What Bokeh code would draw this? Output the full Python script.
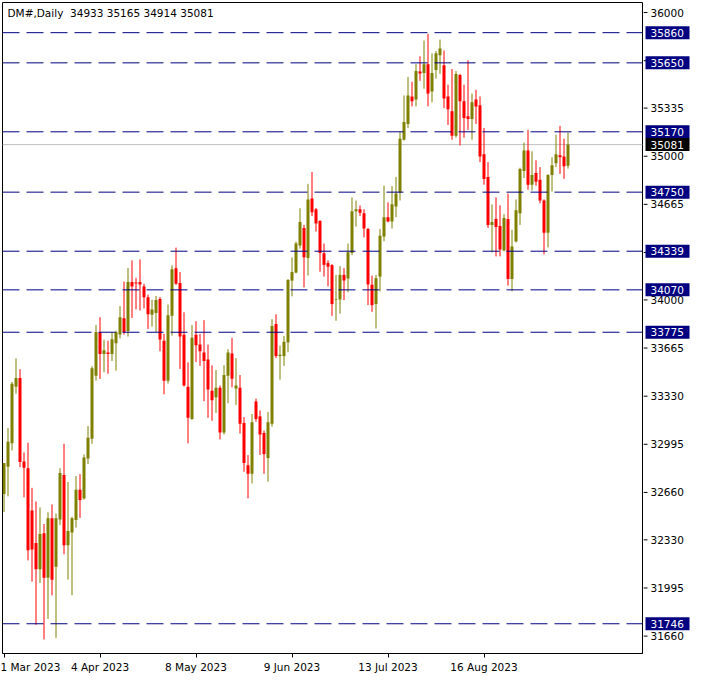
from bokeh.plotting import figure
from bokeh.layouts import row
from bokeh.models import Span, Label, FixedTicker, Range1d, ColumnDataSource
from bokeh.core.properties import value
from bokeh.embed import file_html
from bokeh.resources import INLINE

symbol = "DM#,Daily"

opens = [32649, 32838, 33002, 33395, 33457, 32876, 32829, 32535, 32308, 32126,
         32376, 32067, 32481, 32142, 32472, 32781, 32292, 32381, 32469, 32679,
         32617, 32897, 33033, 33472, 33773, 33623, 33634, 33623, 33698, 33759,
         33873, 33784, 34125, 34121, 34125, 34093, 34018, 33896, 33909, 34007,
         33716, 33438, 33889, 34221, 34118, 33757, 33395, 33172, 33757, 33689,
         33634, 33586, 33368, 33322, 33388, 33077, 33472, 33627, 33384, 33388,
         33143, 32849, 32790, 33293, 33190, 33074, 32899, 33138, 33832, 33609,
         33609, 33704, 34134, 34190, 34378, 34501, 34292, 34706, 34631, 34549,
         34324, 34256, 34242, 33999, 34003, 34174, 34149, 34326, 34617, 34631,
         34604, 34494, 34106, 33971, 34162, 34442, 34576, 34545, 34651, 34747,
         35115, 35225, 35416, 35395, 35589, 35580, 35641, 35450, 35600, 35702,
         35634, 35416, 35313, 35143, 35566, 35382, 35279, 35259, 35395, 35354,
         35013, 34856, 34522, 34563, 34515, 34344, 34563, 34146, 34406, 34604,
         34897, 35040, 34802, 34883, 34836, 34692, 34467, 34870, 34952, 35006,
         34999, 34933]
highs = [32865, 33108, 33429, 33593, 33518, 32938, 33006, 32692, 32597, 32556,
         32440, 32522, 32576, 32513, 32829, 32999, 32733, 32490, 32774, 32788,
         32924, 33122, 33538, 33825, 33880, 33723, 33716, 33773, 33786, 33957,
         34128, 34223, 34275, 34153, 34282, 34112, 34037, 34000, 34027, 34020,
         33764, 33968, 34241, 34364, 34194, 33914, 33566, 33825, 33852, 33764,
         33859, 33689, 33545, 33513, 33404, 33545, 33657, 33736, 33595, 33477,
         33184, 32920, 33206, 33313, 33231, 33090, 33220, 33866, 33900, 33682,
         33750, 34145, 34296, 34406, 34638, 34522, 34808, 34890, 34640, 34556,
         34392, 34276, 34249, 34174, 34235, 34221, 34392, 34713, 34692, 34658,
         34631, 34501, 34169, 34174, 34494, 34795, 34679, 34792, 34856, 35170,
         35423, 35552, 35518, 35641, 35696, 35805, 35852, 35716, 35732, 35812,
         35736, 35498, 35607, 35593, 35573, 35498, 35668, 35436, 35463, 35416,
         35197, 34959, 34665, 34713, 34658, 34597, 34740, 34488, 34699, 34920,
         35095, 35184, 35034, 34972, 34924, 34700, 34875, 34993, 35150, 35211,
         35122, 35165]
lows = [32524, 32633, 32952, 33347, 32836, 32626, 32187, 32039, 31739, 32030,
        31637, 31780, 31944, 31648, 32433, 32230, 32053, 31944, 32415, 32483,
        32610, 32858, 32999, 33438, 33450, 33497, 33486, 33575, 33507, 33732,
        33759, 33745, 33875, 33934, 33927, 33941, 33798, 33814, 33777, 33643,
        33343, 33418, 33752, 34105, 33520, 33397, 33002, 33165, 33568, 33541,
        33295, 33179, 33159, 33213, 33029, 33063, 33281, 33391, 33268, 33070,
        32804, 32619, 32722, 33152, 32920, 32790, 32735, 33118, 33595, 33445,
        33541, 33636, 34025, 34185, 34356, 34087, 34169, 34583, 34476, 34196,
        34162, 34094, 33889, 33855, 33905, 33999, 34053, 34312, 34510, 34583,
        34435, 33964, 33917, 33801, 34060, 34408, 34540, 34497, 34576, 34692,
        35109, 35197, 35347, 35347, 35525, 35470, 35347, 35375, 35540, 35573,
        35334, 35218, 35115, 35130, 35075, 35129, 35184, 35115, 35225, 34959,
        34802, 34501, 34331, 34303, 34303, 34338, 34099, 34060, 34400, 34522,
        34849, 34767, 34761, 34795, 34672, 34317, 34365, 34754, 34924, 34877,
        34842, 34914]
closes = [32865, 33013, 33416, 33457, 32872, 32831, 32258, 32262, 32126, 32371,
          32067, 32481, 32053, 32481, 32795, 32292, 32392, 32481, 32679, 32608,
          32904, 33040, 33525, 33777, 33623, 33650, 33623, 33727, 33777, 33880,
          33777, 34125, 34093, 34114, 34107, 34018, 33900, 33934, 34000, 33725,
          33438, 33893, 34214, 34112, 33745, 33404, 33179, 33736, 33684, 33643,
          33575, 33377, 33302, 33388, 33077, 33477, 33634, 33452, 33404, 33138,
          32865, 32790, 33149, 33172, 33063, 32927, 33149, 33818, 33609, 33618,
          33709, 34139, 34194, 34392, 34542, 34297, 34699, 34610, 34531, 34326,
          34244, 34231, 33971, 34003, 34174, 34135, 34331, 34617, 34631, 34606,
          34497, 34108, 33964, 34151, 34447, 34576, 34545, 34665, 34740, 35122,
          35238, 35423, 35382, 35593, 35575, 35641, 35436, 35580, 35716, 35750,
          35402, 35327, 35143, 35573, 35382, 35266, 35259, 35375, 35347, 34999,
          34842, 34522, 34542, 34508, 34351, 34570, 34146, 34372, 34624, 34911,
          35040, 34802, 34870, 34822, 34692, 34467, 34870, 34938, 35013, 34993,
          34931, 35081]

date_ticks = [0, 24, 48, 72, 96, 120]
date_labels = ["1 Mar 2023", "4 Apr 2023", "8 May 2023", "9 Jun 2023", "13 Jul 2023", "16 Aug 2023"]
price_ticks = [36000, 35665, 35335, 35000, 34665, 34330, 34000, 33665, 33330,
               32995, 32660, 32330, 31995, 31660]
levels = [35860, 35650, 35170, 34750, 34339, 34070, 33775, 31746]
last_price = closes[-1]

UP = "#808000"
DOWN = "#FF0000"
NAVY = "#000080"
FONT = "DejaVu Sans"
FS = "10.5px"

TOP = 2
BOTTOM = 22
H = 675

n = len(opens)
idx = list(range(n))


def make_source(sel):
    ii = [i for i in idx if sel(i)]
    return ColumnDataSource(dict(
        x=ii,
        high=[highs[i] for i in ii],
        low=[lows[i] for i in ii],
        top=[max(opens[i], closes[i]) for i in ii],
        bottom=[min(opens[i], closes[i]) for i in ii],
    ))


src_up = make_source(lambda i: closes[i] >= opens[i])
src_dn = make_source(lambda i: closes[i] < opens[i])

x_start = -0.375
x_end = 159.625
y_range = Range1d(31539, 36070)

# ---- main chart ----
p = figure(width=643, height=H,
           x_range=Range1d(x_start, x_end), y_range=y_range,
           output_backend="svg", toolbar_location=None,
           y_axis_location=None,
           min_border_left=2, min_border_top=TOP,
           min_border_right=1, min_border_bottom=BOTTOM)

p.xgrid.visible = False
p.ygrid.visible = False
p.outline_line_color = "black"
p.outline_line_width = 1
p.background_fill_color = "white"
p.border_fill_color = "white"

p.add_layout(Span(location=last_price, dimension="width", line_color="#C0C0C0",
                  line_width=1, level="underlay"))

for src, col in ((src_up, UP), (src_dn, DOWN)):
    p.segment(x0="x", y0="low", x1="x", y1="high", source=src,
              line_color=col, line_width=1)
    p.vbar(x="x", width=0.75, top="top", bottom="bottom", source=src,
           fill_color=col, line_color=None)

for lv in levels:
    p.add_layout(Span(location=lv, dimension="width", line_color=NAVY,
                      line_width=1, line_dash="17 7"))

p.xaxis.ticker = FixedTicker(ticks=date_ticks)
p.xaxis.major_label_overrides = dict(zip(date_ticks, date_labels))
p.xaxis.major_label_text_align = "left"
p.xaxis.axis_line_color = "black"
p.xaxis.major_tick_line_color = "black"
p.xaxis.major_tick_in = 0
p.xaxis.major_tick_out = 4
p.xaxis.minor_tick_line_color = None
p.xaxis.major_label_text_font = FONT
p.xaxis.major_label_text_font_size = FS
p.xaxis.major_label_text_color = "black"
p.xaxis.major_label_standoff = 3

header = f"{symbol}\u00a0\u00a0{opens[-1]} {highs[-1]} {lows[-1]} {closes[-1]}"
p.add_layout(Label(x=5, y=H - TOP - BOTTOM - 4, x_units="screen", y_units="screen",
                   text=header, text_font=FONT, text_font_size=FS,
                   text_color="black", text_align="left", text_baseline="top"))

# ---- price scale on the right ----
W2 = 47
s = figure(width=W2, height=H, x_range=Range1d(0, W2), y_range=y_range,
           output_backend="svg", toolbar_location=None,
           x_axis_location=None, y_axis_location=None,
           min_border_left=0, min_border_right=0,
           min_border_top=TOP, min_border_bottom=BOTTOM)
s.xgrid.visible = False
s.ygrid.visible = False
s.outline_line_color = None
s.background_fill_color = "white"
s.border_fill_color = "white"

s.segment(x0=0, x1=4, y0=price_ticks, y1=price_ticks, line_color="black", line_width=1)
s.text(x=7, y=price_ticks, text=[str(t) for t in price_ticks],
       text_font=value(FONT), text_font_size=value(FS), text_color="black",
       text_align="left", text_baseline="middle")

s.rect(x=24, y=levels, width=44, height=13, height_units="screen",
       fill_color=NAVY, line_color=None)
s.text(x=7, y=levels, text=[str(v) for v in levels],
       text_font=value(FONT), text_font_size=value(FS), text_color="white",
       text_align="left", text_baseline="middle")
s.rect(x=24, y=[last_price], width=44, height=13, height_units="screen",
       fill_color="black", line_color=None)
s.text(x=7, y=[last_price], text=[str(last_price)],
       text_font=value(FONT), text_font_size=value(FS), text_color="white",
       text_align="left", text_baseline="middle")

layout = row(p, s)
open("out.html", "w").write(file_html(layout, INLINE))
